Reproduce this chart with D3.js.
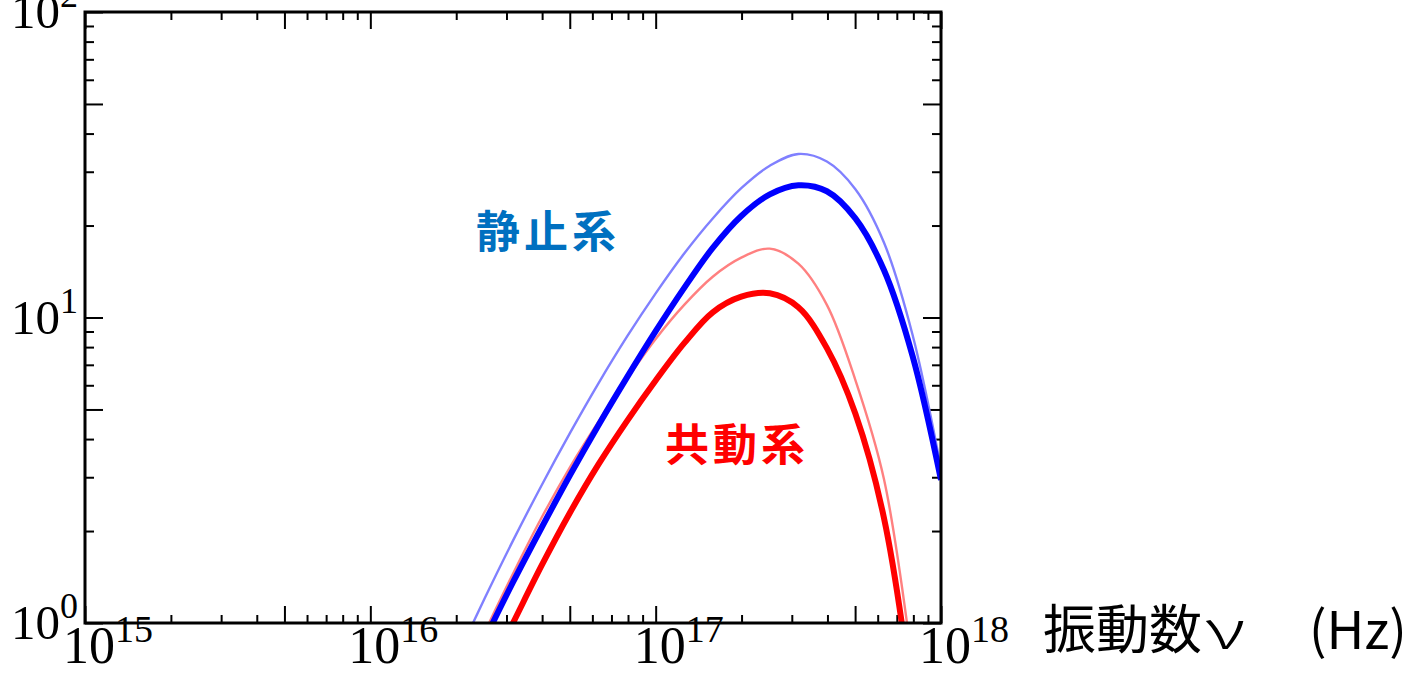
<!DOCTYPE html>
<html>
<head>
<meta charset="utf-8">
<script src="https://cdn.jsdelivr.net/npm/d3@7"></script>
<style>
  html, body { margin: 0; padding: 0; background: #fff; }
  svg { display: block; }
  .tick line { stroke: #000; stroke-width: 2px; }
  .domain { display: none; }
  .lab { font-family: "Liberation Serif", "Times New Roman", serif; fill: #000; }
  .jp { font-family: "Noto Sans CJK JP", sans-serif; }
</style>
</head>
<body>
<svg id="chart" width="1406" height="674"></svg>
<script>
// frequency grid (log10 of Hz)
const logNu = [16.3, 16.4, 16.5, 16.6, 16.7, 16.8, 16.9, 17.0, 17.1, 17.2,
               17.3, 17.4, 17.5, 17.6, 17.7, 17.8, 17.9, 18.0];

// rest frame (静止系), thick line and thin line
const restThick = [0.56, 0.88, 1.36, 2.05, 3.05, 4.45, 6.38, 9.02, 12.5, 16.9,
                   21.5, 25.3, 27.1, 25.9, 21.1, 14.3, 7.5, 2.94];
const restThin  = [0.76, 1.2, 1.86, 2.82, 4.19, 6.1, 8.67, 12.0, 16.2, 21.1,
                   26.5, 31.4, 34.3, 32.4, 26.3, 17.6, 8.8, 3.21];
// comoving frame (共動系), thick line and thin line
const comThick  = [0.41, 0.65, 1.0, 1.54, 2.30, 3.31, 4.59, 6.22, 8.24, 10.4,
                   11.7, 12.0, 10.8, 7.94, 4.84, 2.21, 0.55, 0.063];
const comThin   = [0.59, 0.93, 1.45, 2.21, 3.24, 4.57, 6.31, 8.51, 11.0, 13.6,
                   15.7, 16.8, 15.0, 11.0, 6.24, 2.96, 0.74, 0.13];

const xDecades = [15, 16, 17, 18];
const yDecades = [0, 1, 2];

const svg = d3.select("#chart");
const margin = { left: 85, top: 12, right: 465, bottom: 51 };
const W = 1406, H = 674;

const x = d3.scaleLog()
  .domain([1e15, 1e18])
  .range([margin.left, W - margin.right]);
const y = d3.scaleLog()
  .domain([1, 100])
  .range([H - margin.bottom, margin.top]);

const x0 = x.range()[0], x1 = x.range()[1];
const y0 = y.range()[0], y1 = y.range()[1];

// tick values: minor (2,3,4,6..9) and long ones (5 and decades)
function ticksFor(decades) {
  const minor = [], major = [];
  decades.forEach((d, i) => {
    major.push(Math.pow(10, d));
    if (i < decades.length - 1) {
      for (let k = 2; k <= 9; k++) {
        (k === 5 ? major : minor).push(k * Math.pow(10, d));
      }
    }
  });
  return { minor, major };
}
const xt = ticksFor(xDecades);
const yt = ticksFor(yDecades);

function addAxis(axisFn, scale, vals, size, tx, ty) {
  svg.append("g")
    .attr("transform", `translate(${tx},${ty})`)
    .call(axisFn(scale).tickValues(vals).tickSize(-size).tickFormat(""));
}

addAxis(d3.axisBottom, x, xt.minor, 8, 0, y0);
addAxis(d3.axisBottom, x, xt.major, 17, 0, y0);
addAxis(d3.axisTop, x, xt.minor, 8, 0, y1);
addAxis(d3.axisTop, x, xt.major, 17, 0, y1);
addAxis(d3.axisLeft, y, yt.minor, 9, x0, 0);
addAxis(d3.axisLeft, y, yt.major, 18, x0, 0);
addAxis(d3.axisRight, y, yt.minor, 9, x1, 0);
addAxis(d3.axisRight, y, yt.major, 18, x1, 0);

// curves
svg.append("clipPath").attr("id", "plotClip")
  .append("rect")
  .attr("x", x0).attr("y", y1)
  .attr("width", x1 - x0).attr("height", y0 - y1);

const line = d3.line()
  .x((d) => x(Math.pow(10, d[0])))
  .y((d) => y(d[1]))
  .curve(d3.curveCatmullRom.alpha(0.5));

const series = [
  { vals: restThin, color: "#8080ff", width: 2.4 },
  { vals: comThin, color: "#ff8080", width: 2.4 },
  { vals: restThick, color: "#0000ff", width: 6 },
  { vals: comThick, color: "#ff0000", width: 6 },
];

svg.append("g")
  .attr("clip-path", "url(#plotClip)")
  .selectAll("path")
  .data(series)
  .enter()
  .append("path")
  .attr("d", (s) => line(logNu.map((l, i) => [l, s.vals[i]])))
  .attr("fill", "none")
  .attr("stroke", (s) => s.color)
  .attr("stroke-width", (s) => s.width)
  .attr("stroke-linejoin", "round");

// frame
svg.append("rect")
  .attr("x", x0).attr("y", y1)
  .attr("width", x1 - x0).attr("height", y0 - y1)
  .attr("fill", "none")
  .attr("stroke", "#000")
  .attr("stroke-width", 3);

// x tick labels
const xl = svg.append("g").selectAll("text")
  .data(xDecades)
  .enter()
  .append("text")
  .attr("class", "lab")
  .attr("x", (d) => x(Math.pow(10, d)) - 22)
  .attr("y", y0 + 40)
  .attr("font-size", 52);
xl.append("tspan").text("10");
xl.append("tspan").attr("dy", -21).attr("font-size", 38).text((d) => d);

// y tick labels
const yl = svg.append("g").selectAll("text")
  .data(yDecades)
  .enter()
  .append("text")
  .attr("class", "lab")
  .attr("text-anchor", "end")
  .attr("x", x0 - 7)
  .attr("y", (d) => y(Math.pow(10, d)) + 16)
  .attr("font-size", 49);
yl.append("tspan").text("10");
yl.append("tspan").attr("dy", -21).attr("font-size", 36).text((d) => d);

// axis title: 振動数ν (Hz)
const title = svg.append("g").attr("class", "jp").attr("fill", "#000");
title.append("text")
  .attr("x", 1043).attr("y", 649)
  .attr("font-size", 53)
  .text("振動数");
title.append("text")
  .attr("transform", "translate(1205,649) scale(1.55,1)")
  .attr("font-weight", 300)
  .attr("font-size", 52)
  .text("ν");
title.append("text")
  .attr("x", 1309).attr("y", 649)
  .attr("font-size", 52)
  .text("(Hz)");

// curve annotations
svg.append("text")
  .attr("class", "jp")
  .attr("x", 476)
  .attr("y", 248)
  .attr("font-weight", "bold")
  .attr("font-size", 44)
  .attr("letter-spacing", 4)
  .attr("fill", "#0070c0")
  .text("静止系");

svg.append("text")
  .attr("class", "jp")
  .attr("x", 665)
  .attr("y", 461)
  .attr("font-weight", "bold")
  .attr("font-size", 44)
  .attr("letter-spacing", 4)
  .attr("fill", "#ff0000")
  .text("共動系");
</script>
</body>
</html>
